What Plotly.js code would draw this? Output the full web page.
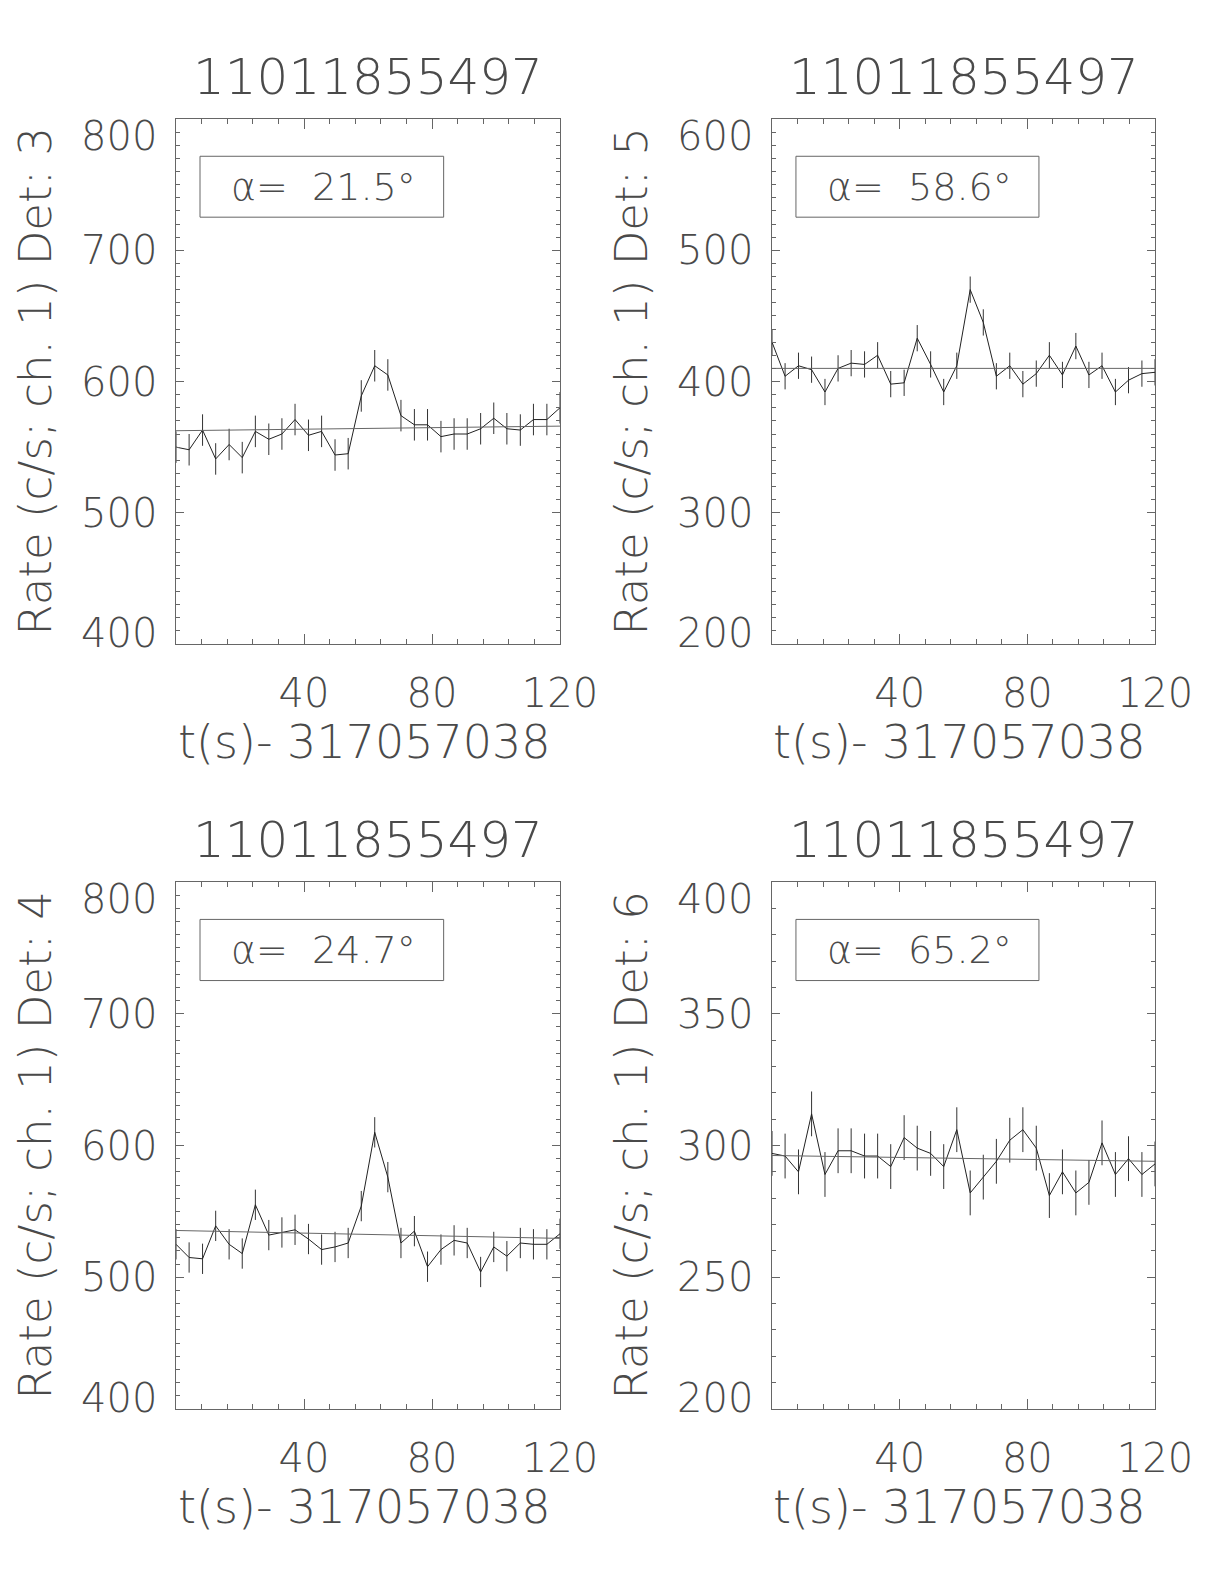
<!DOCTYPE html>
<html>
<head>
<meta charset="utf-8">
<script src="https://cdn.plot.ly/plotly-3.0.1.min.js"></script>
<style>body{margin:0;padding:0;background:#fff}#plot{width:1224px;height:1584px}</style>
</head>
<body>
<div id="plot"></div>
<script>
// ---- data ----
const time = [0, 4.1, 8.3, 12.4, 16.6, 20.7, 24.8, 29.0, 33.1, 37.2, 41.4, 45.5, 49.7, 53.8, 57.9,
              62.1, 66.2, 70.3, 74.5, 78.6, 82.8, 86.9, 91.0, 95.2, 99.3, 103.4, 107.6, 111.7, 115.9, 120.0];

const det3Rate = [550, 548, 563, 541, 552, 542, 562, 556, 560, 571, 559, 562, 544, 545, 589,
                  612, 605, 574, 567, 567, 558, 560, 560, 564, 572, 564, 563, 571, 571, 580];
const det3Err  = [12, 12, 12, 12, 12, 12, 12, 12, 12, 12, 12, 12, 12, 12, 12,
                  12, 12, 12, 12, 12, 12, 12, 12, 12, 12, 12, 12, 12, 12, 12];
const det3FitX = [0, 120];
const det3FitY = [562.5, 566];

const det5Rate = [430, 404, 412, 409, 392, 410, 414, 413, 420, 398, 399, 433, 413, 392, 412,
                  470, 445, 404, 412, 398, 406, 420, 405, 427, 405, 412, 392, 401, 406, 407];
const det5Err  = [10, 10, 10, 10, 10, 10, 10, 10, 10, 10, 10, 10, 10, 10, 10,
                  10, 10, 10, 10, 10, 10, 10, 10, 10, 10, 10, 10, 10, 10, 10];
const det5FitX = [0, 120];
const det5FitY = [410, 410];

const det4Rate = [525, 515, 514, 539, 525, 518, 555, 532, 534, 536, 529, 521, 523, 526, 554,
                  610, 576, 526, 535, 508, 521, 528, 526, 504, 523, 516, 526, 525, 525, 533];
const det4Err  = [11.5, 11.5, 11.5, 11.5, 11.5, 11.5, 11.5, 11.5, 11.5, 11.5, 11.5, 11.5, 11.5, 11.5, 11.5,
                  11.5, 11.5, 11.5, 11.5, 11.5, 11.5, 11.5, 11.5, 11.5, 11.5, 11.5, 11.5, 11.5, 11.5, 11.5];
const det4FitX = [0, 120];
const det4FitY = [535.5, 529.5];

const det6Rate = [297, 296, 290, 312, 289, 298, 298, 296, 296, 292, 303, 299, 297, 292, 306,
                  282, 288, 294, 302, 306, 299, 281, 290, 282, 286, 301, 289, 295, 289, 293];
const det6Err  = [8.5, 8.5, 8.5, 8.5, 8.5, 8.5, 8.5, 8.5, 8.5, 8.5, 8.5, 8.5, 8.5, 8.5, 8.5,
                  8.5, 8.5, 8.5, 8.5, 8.5, 8.5, 8.5, 8.5, 8.5, 8.5, 8.5, 8.5, 8.5, 8.5, 8.5];
const det6FitX = [0, 120];
const det6FitY = [296.2, 294];

const panelTitles = ["11011855497", "11011855497", "11011855497", "11011855497"];
const yTitles = ["Rate (c/s; ch. 1) Det: 3", "Rate (c/s; ch. 1) Det: 5",
                 "Rate (c/s; ch. 1) Det: 4", "Rate (c/s; ch. 1) Det: 6"];
const xTitle = "t(s)- 317057038";
const alphaLabels = ["21.5", "58.6", "24.7", "65.2"];
const xTickVals = [0, 40, 80, 120];
const xTickText = ["", "40", "80", "120"];
const yTickVals = [[400, 500, 600, 700, 800], [200, 300, 400, 500, 600],
                   [400, 500, 600, 700, 800], [200, 250, 300, 350, 400]];

// ---- styling ----
const FONT = "DejaVu Sans, Liberation Sans, sans-serif";
const FW = 200;
const TXT = "#4a4a4a";
const AX = "#666";
const W = 1224, H = 1584;

const panels = [
  {rate: det3Rate, err: det3Err, fx: det3FitX, fy: det3FitY, yr: [400, 800], x0: 176, x1: 560, y0: 119, y1: 644},
  {rate: det5Rate, err: det5Err, fx: det5FitX, fy: det5FitY, yr: [200, 600], x0: 772, x1: 1155, y0: 119, y1: 644},
  {rate: det4Rate, err: det4Err, fx: det4FitX, fy: det4FitY, yr: [400, 800], x0: 176, x1: 560, y0: 882, y1: 1409},
  {rate: det6Rate, err: det6Err, fx: det6FitX, fy: det6FitY, yr: [200, 400], x0: 772, x1: 1155, y0: 882, y1: 1409}
];

const traces = [];
const layout = {
  width: W, height: H,
  margin: {l: 0, r: 0, t: 0, b: 0},
  paper_bgcolor: "#fff", plot_bgcolor: "#fff",
  showlegend: false,
  font: {family: FONT, color: TXT, weight: FW},
  annotations: [], shapes: []
};

panels.forEach((p, i) => {
  const n = i + 1;
  const xa = n === 1 ? "x" : "x" + n;
  const ya = n === 1 ? "y" : "y" + n;
  const xk = n === 1 ? "xaxis" : "xaxis" + n;
  const yk = n === 1 ? "yaxis" : "yaxis" + n;

  traces.push({
    x: time, y: p.rate, xaxis: xa, yaxis: ya, type: "scatter", mode: "lines",
    line: {color: "#222", width: 1},
    error_y: {type: "data", array: p.err, visible: true, color: "#333", thickness: 1, width: 0},
    hoverinfo: "skip"
  });
  traces.push({
    x: p.fx, y: p.fy, xaxis: xa, yaxis: ya, type: "scatter", mode: "lines",
    line: {color: "#666", width: 1}, hoverinfo: "skip"
  });

  layout[xk] = {
    domain: [p.x0 / W, p.x1 / W], anchor: ya,
    range: [0, 120], tickmode: "array", tickvals: xTickVals, ticktext: xTickText,
    ticks: "inside", ticklen: 10, tickwidth: 1, tickcolor: AX,
    minor: {dtick: 8, tick0: 0, ticks: "inside", ticklen: 5, tickcolor: AX, tickwidth: 1},
    showline: true, linecolor: AX, linewidth: 1, mirror: "ticks",
    showgrid: false, zeroline: false,
    tickfont: {family: FONT, size: 40, color: TXT, weight: FW},
    ticklabelstandoff: 14
  };
  layout[yk] = {
    domain: [1 - p.y1 / H, 1 - p.y0 / H], anchor: xa,
    range: p.yr, tickmode: "array", tickvals: yTickVals[i], showticklabels: false,
    ticks: "inside", ticklen: 8, tickwidth: 1, tickcolor: AX,
    minor: {dtick: 10, tick0: 0, ticks: "inside", ticklen: 4, tickcolor: AX, tickwidth: 1},
    showline: true, linecolor: AX, linewidth: 1, mirror: "ticks",
    showgrid: false, zeroline: false
  };

  // y tick labels (end labels nudged inward as in the reference)
  const tv = yTickVals[i];
  tv.forEach((v, k) => {
    let shift = 0;
    if (k === tv.length - 1) shift = -17;
    if (k === 0) shift = 11;
    layout.annotations.push({
      text: String(v), xref: xa + " domain", yref: ya,
      x: 0, y: v, xanchor: "right", yanchor: "middle", xshift: -17, yshift: shift,
      showarrow: false, font: {family: FONT, size: 40, color: TXT, weight: FW}
    });
  });

  const cx = (p.x0 + p.x1) / 2;
  // panel title
  layout.annotations.push({
    text: panelTitles[i], xref: "paper", yref: "paper",
    x: cx / W, y: 1 - (p.y0 - 42) / H, xanchor: "center", yanchor: "middle",
    showarrow: false, font: {family: FONT, size: 50, color: TXT, weight: FW}
  });
  // x title
  layout.annotations.push({
    text: xTitle, xref: "paper", yref: "paper",
    x: (cx - 4) / W, y: 1 - (p.y1 + 98) / H, xanchor: "center", yanchor: "middle",
    showarrow: false, font: {family: FONT, size: 46, color: TXT, weight: FW}
  });
  // y title
  layout.annotations.push({
    text: yTitles[i], xref: "paper", yref: "paper", textangle: -90,
    x: (p.x0 - 141) / W, y: 1 - ((p.y0 + p.y1) / 2) / H, xanchor: "center", yanchor: "middle",
    showarrow: false, font: {family: FONT, size: 45, color: TXT, weight: FW}
  });
  // alpha box
  layout.shapes.push({
    type: "rect", xref: xa + " domain", yref: ya + " domain",
    x0: 0.0625, x1: 0.697, y0: 0.813, y1: 0.929,
    line: {color: AX, width: 1}
  });
  layout.annotations.push({
    text: "α=\u00A0\u00A0" + alphaLabels[i] + "°", xref: xa + " domain", yref: ya + " domain",
    x: 0.385, y: 0.871, xanchor: "center", yanchor: "middle",
    showarrow: false, font: {family: FONT, size: 38, color: TXT, weight: FW}
  });
});

Plotly.newPlot("plot", traces, layout, {staticPlot: true, displayModeBar: false});
</script>
</body>
</html>
